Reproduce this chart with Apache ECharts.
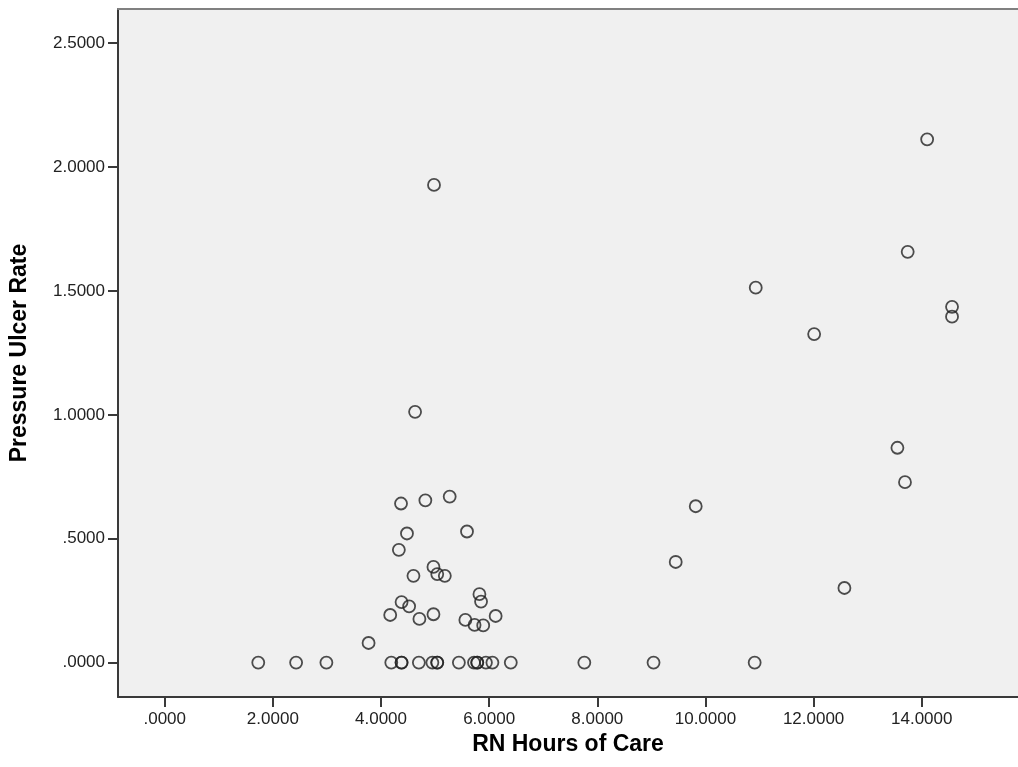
<!DOCTYPE html>
<html>
<head>
<meta charset="utf-8">
<script src="https://cdn.jsdelivr.net/npm/echarts@6/dist/echarts.min.js"></script>
<style>
html,body{margin:0;padding:0;background:#fff;}
#chart{width:1018px;height:767px;}
</style>
</head>
<body>
<div id="chart"></div>
<script>
// RN Hours of Care (x) and Pressure Ulcer Rate (y)
var rnHours = [
  4.63, 4.37, 4.82, 5.27, 4.48, 5.59, 4.33, 4.60, 4.97, 5.04, 5.18,
  4.38, 4.52, 4.17, 4.71, 4.97, 5.82, 5.85, 5.56, 5.73, 5.89, 6.12, 3.77,
  4.98, 9.82, 9.45, 12.57, 10.93, 12.01, 14.10, 13.74, 14.56, 14.56, 13.55, 13.69,
  1.73, 2.43, 2.99, 4.19, 4.38, 4.38, 4.70, 4.95, 5.04, 5.04, 5.44, 5.72, 5.78, 5.78, 5.94, 6.06, 6.40, 7.76, 9.04, 10.91
];
var ulcerRate = [
  1.012, 0.642, 0.655, 0.670, 0.521, 0.529, 0.455, 0.350, 0.386, 0.357, 0.350,
  0.244, 0.227, 0.192, 0.176, 0.195, 0.276, 0.246, 0.172, 0.152, 0.150, 0.188, 0.079,
  1.928, 0.631, 0.406, 0.301, 1.513, 1.326, 2.112, 1.658, 1.436, 1.396, 0.867, 0.728,
  0, 0, 0, 0, 0, 0, 0, 0, 0, 0, 0, 0, 0, 0, 0, 0, 0, 0, 0, 0
];
var xTicks = [0, 2, 4, 6, 8, 10, 12, 14];
var yTicks = [0, 0.5, 1, 1.5, 2, 2.5];

var points = rnHours.map(function (h, i) { return [h, ulcerRate[i]]; });
function fmt(v) { return v.toFixed(4).replace(/^0\./, '.'); }

var axisColor = '#3a3a3a';
var chart = echarts.init(document.getElementById('chart'));
chart.setOption({
  backgroundColor: '#ffffff',
  animation: false,
  grid: {
    left: 117, top: 9, right: 0, height: 688,
    show: true, backgroundColor: '#f0f0f0', borderWidth: 0
  },
  xAxis: [{
    type: 'value', min: -0.864, max: 15.78, position: 'bottom',
    name: 'RN Hours of Care', nameLocation: 'middle', nameGap: 30,
    nameTextStyle: { fontFamily: 'Liberation Sans', fontWeight: 'bold', fontSize: 23, color: '#000' },
    axisLine: { show: true, onZero: false, lineStyle: { color: axisColor, width: 2 } },
    axisTick: { show: true, inside: false, length: 10, lineStyle: { color: axisColor, width: 2 }, customValues: xTicks },
    axisLabel: { customValues: xTicks, formatter: fmt, margin: 14, fontFamily: 'Liberation Sans', fontSize: 17, color: '#222' },
    splitLine: { show: false }
  }, {
    type: 'value', position: 'top', min: -0.864, max: 15.78,
    axisLine: { show: true, onZero: false, lineStyle: { color: '#808080', width: 2 } },
    axisTick: { show: false }, axisLabel: { show: false }, splitLine: { show: false }
  }],
  yAxis: {
    type: 'value', min: -0.139, max: 2.638,
    name: 'Pressure Ulcer Rate', nameLocation: 'middle', nameGap: 87,
    nameTextStyle: { fontFamily: 'Liberation Sans', fontWeight: 'bold', fontSize: 23, color: '#000' },
    axisLine: { show: true, onZero: false, lineStyle: { color: axisColor, width: 2 } },
    axisTick: { show: true, inside: false, length: 10, lineStyle: { color: axisColor, width: 2 }, customValues: yTicks },
    axisLabel: { customValues: yTicks, formatter: fmt, margin: 13, fontFamily: 'Liberation Sans', fontSize: 17, color: '#222' },
    splitLine: { show: false }
  },
  series: [{
    type: 'scatter',
    xAxisIndex: 0,
    data: points,
    symbol: 'circle',
    symbolSize: 12,
    itemStyle: { color: 'rgba(0,0,0,0)', borderColor: '#222', borderWidth: 1.8 }
  }]
});
</script>
</body>
</html>
